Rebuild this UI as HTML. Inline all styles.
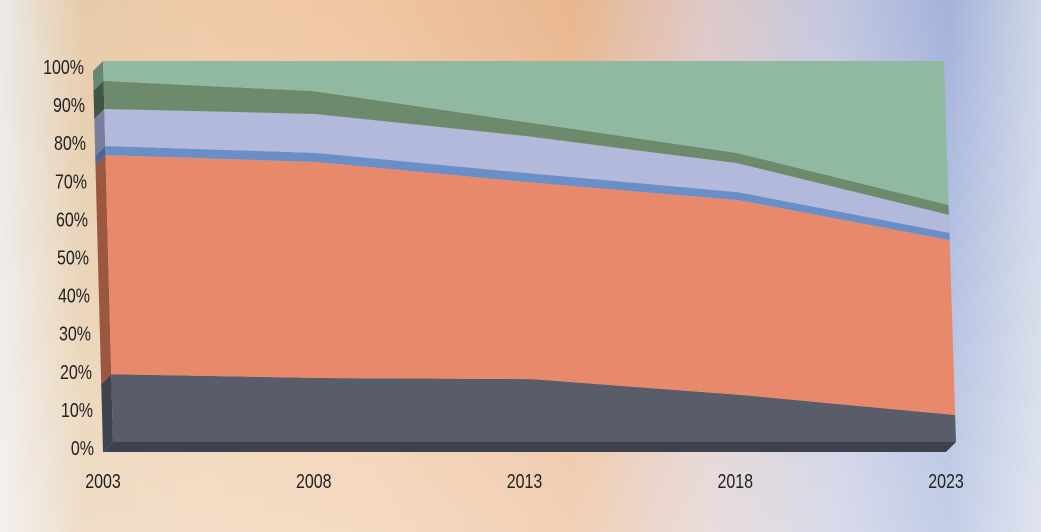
<!DOCTYPE html>
<html><head><meta charset="utf-8"><style>
html,body{margin:0;padding:0;width:1041px;height:532px;overflow:hidden}
body{background:linear-gradient(90deg,#eceae8 0%,#e6cba9 8%,#efcaa8 20%,#f0c6a3 35%,#e9b78f 55%,#ddc9c8 68%,#c4c8df 80%,#a4b3dc 91%,#cfd6e5 100%)}
svg{position:absolute;left:0;top:0}
text{font-family:"Liberation Sans Narrow","Liberation Sans",sans-serif;font-size:20px;fill:#222}
</style></head><body>
<svg id="chart" width="1041" height="532">
<defs><linearGradient id="fade" x1="0" y1="0" x2="0" y2="1"><stop offset="0" stop-color="#fff" stop-opacity="0"/><stop offset="1" stop-color="#fff" stop-opacity="0.35"/></linearGradient></defs>
<rect x="0" y="0" width="1041" height="532" fill="url(#fade)"/>
</svg>
<script>
const years=["2003","2008","2013","2018","2023"];
const s1=[17.8,16.8,16.5,12.3,7.1];
const s2=[57.5,56.7,51.7,51.2,45.9];
const s3=[2.4,2.4,2.4,2.1,1.9];
const s4=[9.7,10.2,9.7,7.6,4.7];
const s5=[7.4,6.0,3.7,2.7,2.6];
const s6=[5.2,7.9,16.0,24.1,37.8];
const yTicks=["0%","10%","20%","30%","40%","50%","60%","70%","80%","90%","100%"];
const series=[s1,s2,s3,s4,s5,s6];
const names=["series-dark-gray","series-orange","series-blue","series-lavender","series-dark-green","series-light-green"];
const colors=["#595d69","#e8896b","#6a8fc8","#b2b9da","#6e8a6d","#91b8a1"];
const sides=["#40444f","#9c5741","#46679a","#7a7f9e","#3f5740","#638873"];
const svg=document.getElementById('chart');
const NS="http://www.w3.org/2000/svg";
const Y0=442,H=381;
function yS(v){return Y0-v/100*H;}
function xS(i,v){const f=v/100;const xl=113-10*f,xr=956-12*f;return xl+i/(years.length-1)*(xr-xl);}
const DX=-10,DY=10;
function poly(pts,fill,name){const p=document.createElementNS(NS,'polygon');p.setAttribute('points',pts.map(q=>q.join(',')).join(' '));p.setAttribute('fill',fill);


svg.appendChild(p);}
const n=years.length;
poly([[xS(0,0),Y0],[xS(n-1,0),Y0],[xS(n-1,0)+DX,Y0+DY],[xS(0,0)+DX,Y0+DY]],"#3e424d","bottom-face");
let cum=years.map(()=>0);
series.forEach((s,k)=>{
 const lo=cum.slice();const hi=cum.map((c,i)=>c+s[i]);
 poly([[xS(0,lo[0]),yS(lo[0])],[xS(0,hi[0]),yS(hi[0])],[xS(0,hi[0])+DX,yS(hi[0])+DY],[xS(0,lo[0])+DX,yS(lo[0])+DY]],sides[k],names[k]+"-side");
 const pts=[];
 for(let i=0;i<n;i++)pts.push([xS(i,hi[i]),yS(hi[i])]);
 for(let i=n-1;i>=0;i--)pts.push([xS(i,lo[i]),yS(lo[i])]);
 poly(pts,colors[k],names[k]);
 cum=hi;
});
yTicks.forEach((t,i)=>{const v=i*10;const e=document.createElementNS(NS,'text');
 e.setAttribute('transform','translate('+(xS(0,v)-19)+','+(yS(v)+DY+3)+') scale(0.8,1)');
 e.setAttribute('text-anchor','end');e.textContent=t;


svg.appendChild(e);});
years.forEach((t,i)=>{const x=xS(i,0)-10;const l=document.createElementNS(NS,'line');l.setAttribute('x1',x);l.setAttribute('x2',x);l.setAttribute('y1',Y0+DY);l.setAttribute('y2',Y0+DY+6);l.setAttribute('stroke','#ddd');


svg.appendChild(l);
const e=document.createElementNS(NS,'text');
e.setAttribute('transform','translate('+x+',488) scale(0.8,1)');
e.setAttribute('text-anchor','middle');e.textContent=t;


svg.appendChild(e);});
</script>
</body></html>
